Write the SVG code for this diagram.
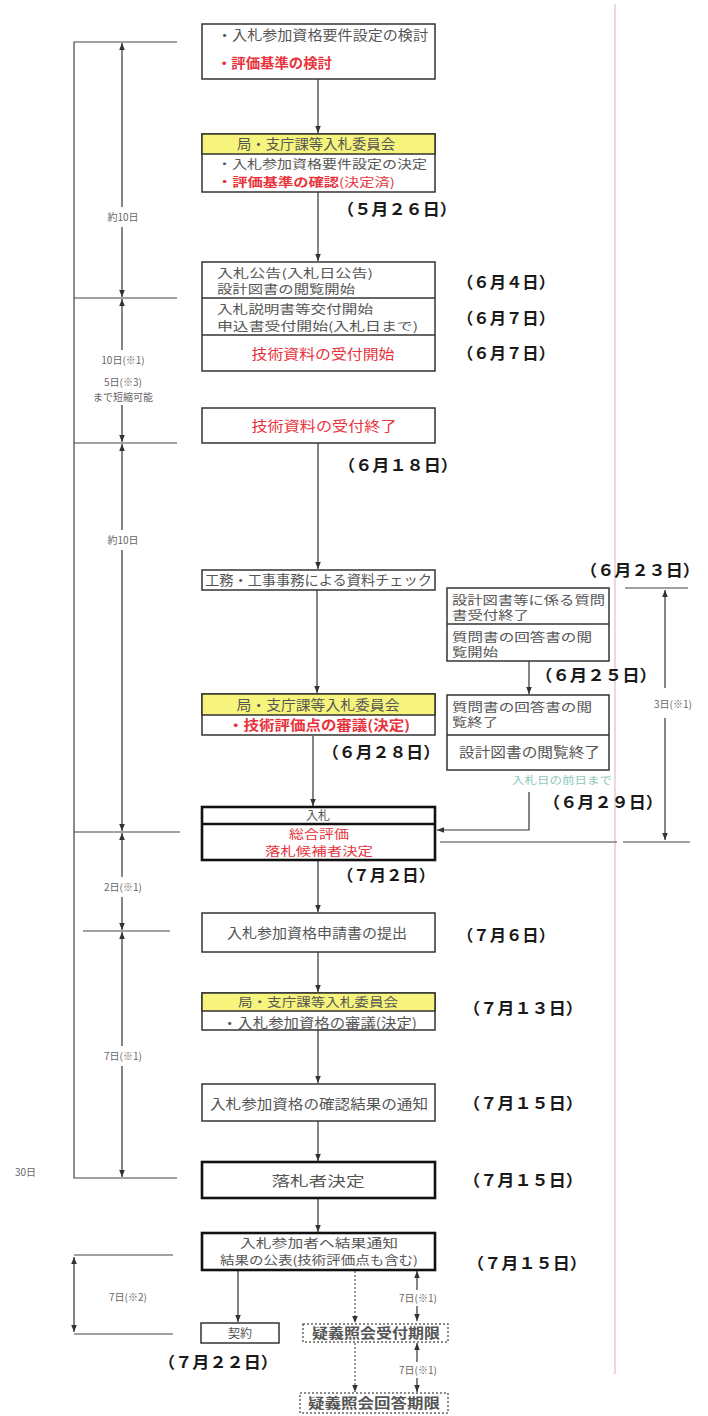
<svg xmlns="http://www.w3.org/2000/svg" width="708" height="1416" viewBox="0 0 708 1416">
<defs>
<marker id="ah" viewBox="0 0 10 10" refX="10" refY="5" markerUnits="userSpaceOnUse" markerWidth="7" markerHeight="7" orient="auto-start-reverse"><path d="M0,1 L10,5 L0,9 z" fill="#333"/></marker>
<style>
text{font-family:"Noto Sans CJK JP","Noto Sans CJK SC",sans-serif}
.b{fill:#fff;stroke:#333;stroke-width:1.5}
.bt{fill:#fff;stroke:#111;stroke-width:2.6}
.hd{fill:#f6f47c;stroke:#333;stroke-width:1.5}
.dv{stroke:#333;stroke-width:1.5}
.dvt{stroke:#111;stroke-width:2.4}
.dot{fill:#fff;stroke:#666;stroke-width:1.5;stroke-dasharray:2 2}
.t{font-size:13.5px;fill:#555}
.m{font-size:12px;fill:#555}
.r{font-size:13.5px;fill:#e8333c;font-weight:bold}
.rm{font-size:12px;fill:#e8333c;font-weight:bold}
.rn{font-size:13.5px;fill:#e8333c}
.rs{font-size:12px;fill:#e8333c}
.d{font-size:16px;font-weight:bold;fill:#1a1a1a}
.s{font-size:10px;fill:#666}
.ln{stroke:#444;stroke-width:1.2;fill:none}
.ar{stroke:#333;stroke-width:1.2;fill:none;marker-end:url(#ah)}
.ar2{stroke:#333;stroke-width:1.2;fill:none;marker-end:url(#ah);marker-start:url(#ah)}
.dar{stroke:#555;stroke-width:1.2;stroke-dasharray:2 2;fill:none;marker-end:url(#ah)}
.c{text-anchor:middle}
</style>
</defs>
<rect width="708" height="1416" fill="#fff"/>
<line x1="615" y1="4" x2="615" y2="1374" stroke="#e8c8ce" stroke-width="1.5"/>

<g id="connectors">
<line class="ar" x1="318" y1="79" x2="318" y2="133"/>
<line class="ar" x1="318" y1="192" x2="318" y2="261"/>
<line class="ar" x1="318" y1="443" x2="318" y2="569"/>
<line class="ar" x1="317" y1="590" x2="317" y2="693"/>
<line class="ar" x1="313" y1="736" x2="313" y2="806"/>
<line class="ar" x1="318" y1="860" x2="318" y2="912"/>
<line class="ar" x1="318" y1="952" x2="318" y2="992"/>
<line class="ar" x1="318" y1="1030" x2="318" y2="1083"/>
<line class="ar" x1="318" y1="1121" x2="318" y2="1161"/>
<line class="ar" x1="318" y1="1198" x2="318" y2="1232"/>
<line class="ar" x1="238" y1="1270" x2="238" y2="1322"/>
<line class="dar" x1="355" y1="1271" x2="355" y2="1323"/>
<line class="dar" x1="355" y1="1343" x2="355" y2="1392"/>
<line class="ar" x1="529" y1="661" x2="529" y2="694"/>
<polyline class="ar" points="529,792 529,830 437,830"/>
<polyline class="ln" points="177,42 74,42 74,1178 177,1178"/>
<line class="ln" x1="74" y1="298" x2="177" y2="298"/>
<line class="ln" x1="74" y1="443" x2="177" y2="443"/>
<line class="ln" x1="74" y1="832" x2="180" y2="832"/>
<line class="ln" x1="83" y1="931" x2="170" y2="931"/>
<line class="ar" x1="122" y1="207" x2="122" y2="43"/>
<line class="ar" x1="122" y1="227" x2="122" y2="297"/>
<line class="ar" x1="122" y1="350" x2="122" y2="299"/>
<line class="ar" x1="122" y1="405" x2="122" y2="442"/>
<line class="ar" x1="122" y1="530" x2="122" y2="444"/>
<line class="ar" x1="122" y1="550" x2="122" y2="831"/>
<line class="ar" x1="122" y1="877" x2="122" y2="833"/>
<line class="ar" x1="122" y1="897" x2="122" y2="930"/>
<line class="ar" x1="122" y1="1046" x2="122" y2="932"/>
<line class="ar" x1="122" y1="1066" x2="122" y2="1177"/>
<line class="ln" x1="74" y1="1255" x2="173" y2="1255"/>
<line class="ln" x1="74" y1="1334" x2="173" y2="1334"/>
<line class="ar2" x1="74" y1="1257" x2="74" y2="1332"/>
<line class="ln" x1="625" y1="588" x2="688" y2="588"/>
<line class="ln" x1="440" y1="842" x2="617" y2="842"/>
<line class="ln" x1="623" y1="842" x2="690" y2="842"/>
<line class="ar" x1="665" y1="688" x2="665" y2="590"/>
<line class="ar" x1="665" y1="718" x2="665" y2="840"/>
<line class="ar" x1="417" y1="1290" x2="417" y2="1271"/>
<line class="ar" x1="417" y1="1306" x2="417" y2="1321"/>
<line class="ar" x1="417" y1="1362" x2="417" y2="1343"/>
<line class="ar" x1="417" y1="1378" x2="417" y2="1392"/>
</g>

<g id="n1">
<rect class="b" x="202" y="24" width="233" height="55"/>
<text class="t" x="217" y="40" textLength="211" lengthAdjust="spacingAndGlyphs">・入札参加資格要件設定の検討</text>
<text class="r" x="217" y="68" textLength="115" lengthAdjust="spacingAndGlyphs">・評価基準の検討</text>
</g>
<g id="n2">
<rect class="b" x="202" y="134" width="233" height="58"/>
<rect class="hd" x="202" y="134" width="233" height="20"/>
<text class="t c" x="316" y="148.5" textLength="158" lengthAdjust="spacingAndGlyphs">局・支庁課等入札委員会</text>
<text class="m" x="217" y="169" textLength="210" lengthAdjust="spacingAndGlyphs">・入札参加資格要件設定の決定</text>
<text class="rm" x="217" y="186.5" textLength="178" lengthAdjust="spacingAndGlyphs">・評価基準の確認<tspan font-weight="normal">(決定済)</tspan></text>
</g>
<text class="d" x="337" y="215" textLength="120" lengthAdjust="spacingAndGlyphs">（５月２６日）</text>
<g id="n3">
<rect class="b" x="202" y="262" width="233" height="109"/>
<line class="dv" x1="202" y1="298" x2="435" y2="298"/>
<line class="dv" x1="202" y1="335" x2="435" y2="335"/>
<text class="m" x="217" y="277.5" textLength="156" lengthAdjust="spacingAndGlyphs">入札公告(入札日公告)</text>
<text class="m" x="217" y="294" textLength="138" lengthAdjust="spacingAndGlyphs">設計図書の閲覧開始</text>
<text class="m" x="217" y="313.5" textLength="156" lengthAdjust="spacingAndGlyphs">入札説明書等交付開始</text>
<text class="m" x="217" y="331" textLength="201" lengthAdjust="spacingAndGlyphs">申込書受付開始(入札日まで)</text>
<text class="rn c" x="323" y="359" textLength="143" lengthAdjust="spacingAndGlyphs">技術資料の受付開始</text>
</g>
<text class="d" x="457" y="288" textLength="98" lengthAdjust="spacingAndGlyphs">（６月４日）</text>
<text class="d" x="457" y="324" textLength="98" lengthAdjust="spacingAndGlyphs">（６月７日）</text>
<text class="d" x="457" y="359" textLength="98" lengthAdjust="spacingAndGlyphs">（６月７日）</text>
<g id="n4">
<rect class="b" x="202" y="408" width="233" height="35"/>
<text class="rn c" x="324" y="431" textLength="145" lengthAdjust="spacingAndGlyphs">技術資料の受付終了</text>
</g>
<text class="d" x="338" y="471" textLength="120" lengthAdjust="spacingAndGlyphs">（６月１８日）</text>
<g id="n5">
<rect class="b" x="202" y="570" width="233" height="20"/>
<text class="t" x="205" y="585" textLength="227" lengthAdjust="spacingAndGlyphs">工務・工事事務による資料チェック</text>
</g>
<g id="n6">
<rect class="b" x="202" y="694" width="233" height="41"/>
<rect class="hd" x="202" y="694" width="233" height="21"/>
<text class="t c" x="318" y="709.5" textLength="163" lengthAdjust="spacingAndGlyphs">局・支庁課等入札委員会</text>
<text class="r" x="228" y="730" textLength="182" lengthAdjust="spacingAndGlyphs">・技術評価点の審議(決定)</text>
</g>
<text class="d" x="322" y="758" textLength="118" lengthAdjust="spacingAndGlyphs">（６月２８日）</text>
<g id="nA">
<rect class="b" x="447" y="588" width="162" height="73"/>
<line class="dv" x1="447" y1="624" x2="609" y2="624"/>
<text class="m" x="452" y="604.5" textLength="153" lengthAdjust="spacingAndGlyphs">設計図書等に係る質問</text>
<text class="m" x="452" y="620" textLength="77" lengthAdjust="spacingAndGlyphs">書受付終了</text>
<text class="m" x="452" y="641.5" textLength="140" lengthAdjust="spacingAndGlyphs">質問書の回答書の閲</text>
<text class="m" x="452" y="657" textLength="46" lengthAdjust="spacingAndGlyphs">覧開始</text>
</g>
<text class="d" x="580" y="576" textLength="120" lengthAdjust="spacingAndGlyphs">（６月２３日）</text>
<text class="d" x="535" y="681" textLength="122" lengthAdjust="spacingAndGlyphs">（６月２５日）</text>
<g id="nB">
<rect class="b" x="447" y="695" width="162" height="75"/>
<line class="dv" x1="447" y1="735" x2="609" y2="735"/>
<text class="m" x="452" y="711.5" textLength="140" lengthAdjust="spacingAndGlyphs">質問書の回答書の閲</text>
<text class="m" x="452" y="727" textLength="46" lengthAdjust="spacingAndGlyphs">覧終了</text>
<text class="t" x="459" y="757" textLength="141" lengthAdjust="spacingAndGlyphs">設計図書の閲覧終了</text>
</g>
<text x="512" y="784" font-size="10" fill="#8cc8b8" textLength="100" lengthAdjust="spacingAndGlyphs">入札日の前日まで</text>
<text class="d" x="543" y="808" textLength="120" lengthAdjust="spacingAndGlyphs">（６月２９日）</text>
<text class="s c" x="673" y="708">3日(※1)</text>
<g id="n7">
<rect class="bt" x="202" y="807" width="233" height="53"/>
<line class="dvt" x1="202" y1="824" x2="435" y2="824"/>
<text class="m c" x="318" y="820">入札</text>
<text class="rs c" x="319" y="838.5" textLength="60" lengthAdjust="spacingAndGlyphs">総合評価</text>
<text class="rs c" x="319" y="856" textLength="108" lengthAdjust="spacingAndGlyphs">落札候補者決定</text>
</g>
<text class="d" x="337" y="881" textLength="98" lengthAdjust="spacingAndGlyphs">（７月２日）</text>
<g id="n8">
<rect class="b" x="202" y="913" width="233" height="39"/>
<text class="t" x="227" y="938" textLength="180" lengthAdjust="spacingAndGlyphs">入札参加資格申請書の提出</text>
</g>
<text class="d" x="457" y="941" textLength="98" lengthAdjust="spacingAndGlyphs">（７月６日）</text>
<g id="n9">
<rect class="b" x="202" y="993" width="233" height="37"/>
<rect class="hd" x="202" y="993" width="233" height="18"/>
<text class="m c" x="318" y="1006.5" textLength="160" lengthAdjust="spacingAndGlyphs">局・支庁課等入札委員会</text>
<text class="t" x="222" y="1027.5" textLength="195" lengthAdjust="spacingAndGlyphs">・入札参加資格の審議(決定)</text>
</g>
<text class="d" x="463" y="1014" textLength="120" lengthAdjust="spacingAndGlyphs">（７月１３日）</text>
<g id="n10">
<rect class="b" x="202" y="1084" width="233" height="37"/>
<text class="t" x="210" y="1109" textLength="218" lengthAdjust="spacingAndGlyphs">入札参加資格の確認結果の通知</text>
</g>
<text class="d" x="463" y="1109" textLength="120" lengthAdjust="spacingAndGlyphs">（７月１５日）</text>
<g id="n11">
<rect class="bt" x="202" y="1162" width="233" height="36"/>
<text class="t c" x="318" y="1186" font-size="17" textLength="93" lengthAdjust="spacingAndGlyphs">落札者決定</text>
</g>
<text class="d" x="463" y="1186" textLength="120" lengthAdjust="spacingAndGlyphs">（７月１５日）</text>
<text class="s" x="15" y="1176">30日</text>
<g id="n12">
<rect class="bt" x="202" y="1233" width="233" height="37"/>
<text class="m c" x="319" y="1247.5" textLength="158" lengthAdjust="spacingAndGlyphs">入札参加者へ結果通知</text>
<text class="m c" x="319" y="1265" font-size="11.5" textLength="198" lengthAdjust="spacingAndGlyphs">結果の公表(技術評価点も含む)</text>
</g>
<text class="d" x="467" y="1269" textLength="120" lengthAdjust="spacingAndGlyphs">（７月１５日）</text>
<g id="n13">
<rect class="b" x="201" y="1323" width="78" height="20"/>
<text class="m c" x="240" y="1337.5" font-size="11.5">契約</text>
</g>
<text class="d" x="158" y="1368" textLength="120" lengthAdjust="spacingAndGlyphs">（７月２２日）</text>
<g id="n14">
<rect class="dot" x="303" y="1324" width="145" height="18"/>
<text class="t c" x="376" y="1338" font-weight="bold" textLength="128" lengthAdjust="spacingAndGlyphs">疑義照会受付期限</text>
</g>
<g id="n15">
<rect class="dot" x="300" y="1393" width="148" height="20"/>
<text class="t c" x="374" y="1408" font-weight="bold" textLength="132" lengthAdjust="spacingAndGlyphs">疑義照会回答期限</text>
</g>
<text class="s c" x="418" y="1302">7日(※1)</text>
<text class="s c" x="418" y="1374">7日(※1)</text>
<text class="s c" x="123" y="221">約10日</text>
<text class="s c" x="123" y="364" fill="#e05a6a">10日(※1)</text>
<text class="s c" x="123" y="386">5日(※3)</text>
<text class="s c" x="123" y="401">まで短縮可能</text>
<text class="s c" x="123" y="544">約10日</text>
<text class="s c" x="123" y="891">2日(※1)</text>
<text class="s c" x="123" y="1060">7日(※1)</text>
<text class="s c" x="128" y="1301">7日(※2)</text>
</svg>
